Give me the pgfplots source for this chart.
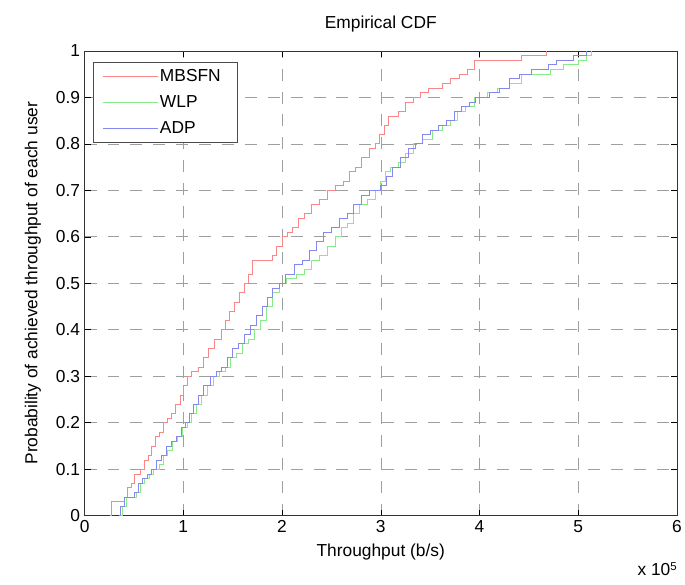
\documentclass[border=0pt]{standalone}
\usepackage{pgfplots}
\pgfplotsset{compat=1.18}
\usepackage{fontspec}
\setmainfont{Liberation Sans}
\definecolor{cR}{RGB}{250,135,135}
\definecolor{cG}{RGB}{135,235,135}
\definecolor{cB}{RGB}{135,135,240}
\newcommand{\fs}{\fontsize{17.5}{20}\selectfont}
\begin{document}
\begin{tikzpicture}
\begin{axis}[
  name=ax,
  scale only axis, width=595bp, height=467bp,
  xmin=0, xmax=6, ymin=0, ymax=1,
  xtick={0,1,2,3,4,5,6}, xticklabels={0,1,2,3,4,5,6},
  ytick={0,0.1,0.2,0.3,0.4,0.5,0.6,0.7,0.8,0.9,1},
  yticklabels={0,0.1,0.2,0.3,0.4,0.5,0.6,0.7,0.8,0.9,1},
  scaled ticks=false,
  tick align=inside, tick pos=both, major tick length=6bp,
  tick style={black, line width=0.4pt},
  axis line style={black!80, line width=0.5pt},
  grid=major,
  major grid style={gray!75, dash pattern=on 12bp off 11bp, line width=0.45pt},
  ticklabel style={font=\fs},
  xticklabel style={yshift=-1bp},
  yticklabel style={xshift=-1bp},
  title={Empirical CDF},
  title style={font=\fs, at={(axis description cs:0.5,1.045)}, anchor=center},
  xlabel={Throughput (b/s)},
  xlabel style={font=\fs, at={(axis description cs:0.5,-0.079)}, anchor=center},
  ylabel={Probability of achieved throughput of each user},
  ylabel style={font=\fs, at={(axis description cs:-0.0874,0.5)}, anchor=center},
  legend style={at={(axis description cs:0.0135,0.976)}, anchor=north west,
    draw=black!70, font=\fs, inner xsep=6bp, inner ysep=5.5bp, row sep=8.5bp,
    cells={anchor=west}},
  legend image code/.code={\path (0bp,0bp) (59bp,0bp); \draw[#1] (4bp,0bp) -- (59bp,0bp);},
  every axis plot/.append style={line width=0.5pt},
]
\addplot[cR, const plot] coordinates {
(0.26,0.00) (0.27,0.03) (0.40,0.04) (0.43,0.06) (0.47,0.07) (0.50,0.09)
(0.56,0.10) (0.60,0.12) (0.64,0.13) (0.68,0.15) (0.72,0.17) (0.76,0.18)
(0.80,0.20) (0.84,0.21) (0.88,0.22) (0.92,0.24) (0.97,0.26) (1.00,0.28)
(1.04,0.30) (1.08,0.31) (1.15,0.32) (1.20,0.34) (1.25,0.36) (1.31,0.38)
(1.38,0.40) (1.42,0.42) (1.47,0.44) (1.52,0.46) (1.57,0.48) (1.62,0.50)
(1.66,0.52) (1.70,0.55) (1.90,0.56) (1.94,0.58) (2.00,0.60) (2.05,0.61)
(2.10,0.62) (2.16,0.64) (2.22,0.65) (2.30,0.67) (2.38,0.68) (2.46,0.70)
(2.54,0.71) (2.62,0.72) (2.68,0.74) (2.74,0.75) (2.80,0.77) (2.88,0.79)
(2.94,0.80) (2.98,0.82) (3.04,0.84) (3.08,0.86) (3.18,0.87) (3.25,0.89)
(3.33,0.90) (3.40,0.91) (3.48,0.92) (3.62,0.93) (3.70,0.94) (3.80,0.95)
(3.88,0.96) (3.95,0.98) (4.42,0.99) (4.68,1.00)
};
\addlegendentry{MBSFN\hspace*{9bp}}
\addplot[cG, const plot] coordinates {
(0.37,0.00) (0.38,0.02) (0.42,0.04) (0.52,0.05) (0.56,0.07) (0.60,0.08)
(0.65,0.09) (0.70,0.10) (0.76,0.11) (0.80,0.13) (0.84,0.14) (0.89,0.16)
(0.94,0.17) (0.99,0.19) (1.04,0.20) (1.08,0.22) (1.13,0.24) (1.18,0.26)
(1.24,0.28) (1.30,0.30) (1.36,0.31) (1.42,0.32) (1.48,0.34) (1.54,0.35)
(1.60,0.37) (1.66,0.38) (1.72,0.40) (1.78,0.42) (1.84,0.45) (1.90,0.48)
(1.97,0.50) (2.04,0.51) (2.14,0.52) (2.22,0.53) (2.30,0.55) (2.38,0.56)
(2.46,0.58) (2.54,0.60) (2.60,0.62) (2.66,0.63) (2.72,0.65) (2.78,0.67)
(2.86,0.68) (2.94,0.70) (3.00,0.72) (3.05,0.74) (3.10,0.75) (3.18,0.76)
(3.25,0.78) (3.33,0.80) (3.42,0.81) (3.52,0.83) (3.62,0.84) (3.70,0.85)
(3.78,0.87) (3.86,0.88) (3.95,0.90) (4.08,0.91) (4.18,0.92) (4.30,0.93)
(4.42,0.95) (4.72,0.96) (4.85,0.97) (5.00,0.98) (5.08,0.99) (5.13,1.00)
};
\addlegendentry{WLP}
\addplot[cB, const plot] coordinates {
(0.35,0.00) (0.36,0.02) (0.40,0.04) (0.50,0.05) (0.54,0.07) (0.58,0.08)
(0.63,0.09) (0.68,0.10) (0.73,0.12) (0.78,0.13) (0.83,0.15) (0.88,0.16)
(0.93,0.17) (0.98,0.19) (1.02,0.20) (1.06,0.22) (1.10,0.24) (1.15,0.26)
(1.20,0.28) (1.27,0.30) (1.33,0.31) (1.38,0.32) (1.44,0.34) (1.50,0.36)
(1.56,0.37) (1.62,0.39) (1.68,0.41) (1.74,0.43) (1.80,0.45) (1.85,0.47)
(1.90,0.49) (1.97,0.50) (2.03,0.52) (2.12,0.54) (2.20,0.55) (2.28,0.57)
(2.35,0.59) (2.42,0.61) (2.50,0.62) (2.58,0.64) (2.66,0.65) (2.72,0.67)
(2.80,0.69) (2.88,0.70) (3.00,0.71) (3.06,0.73) (3.12,0.75) (3.20,0.77)
(3.28,0.79) (3.35,0.80) (3.42,0.82) (3.50,0.83) (3.58,0.84) (3.66,0.85)
(3.74,0.87) (3.82,0.88) (3.90,0.89) (3.96,0.90) (4.10,0.91) (4.20,0.92)
(4.30,0.94) (4.40,0.95) (4.52,0.96) (4.70,0.97) (4.78,0.98) (4.95,0.99)
(5.08,1.00)
};
\addlegendentry{ADP}
\end{axis}
\node[anchor=north east, font=\fs, inner sep=0pt] at ([yshift=-47bp]ax.south east) {x 10\raisebox{0.6ex}{\fontsize{11.5}{13}\selectfont 5}};
\path (ax.south west) ++(-85bp,-69bp) rectangle ([shift={(5bp,51bp)}]ax.north east);
\end{tikzpicture}
\end{document}
